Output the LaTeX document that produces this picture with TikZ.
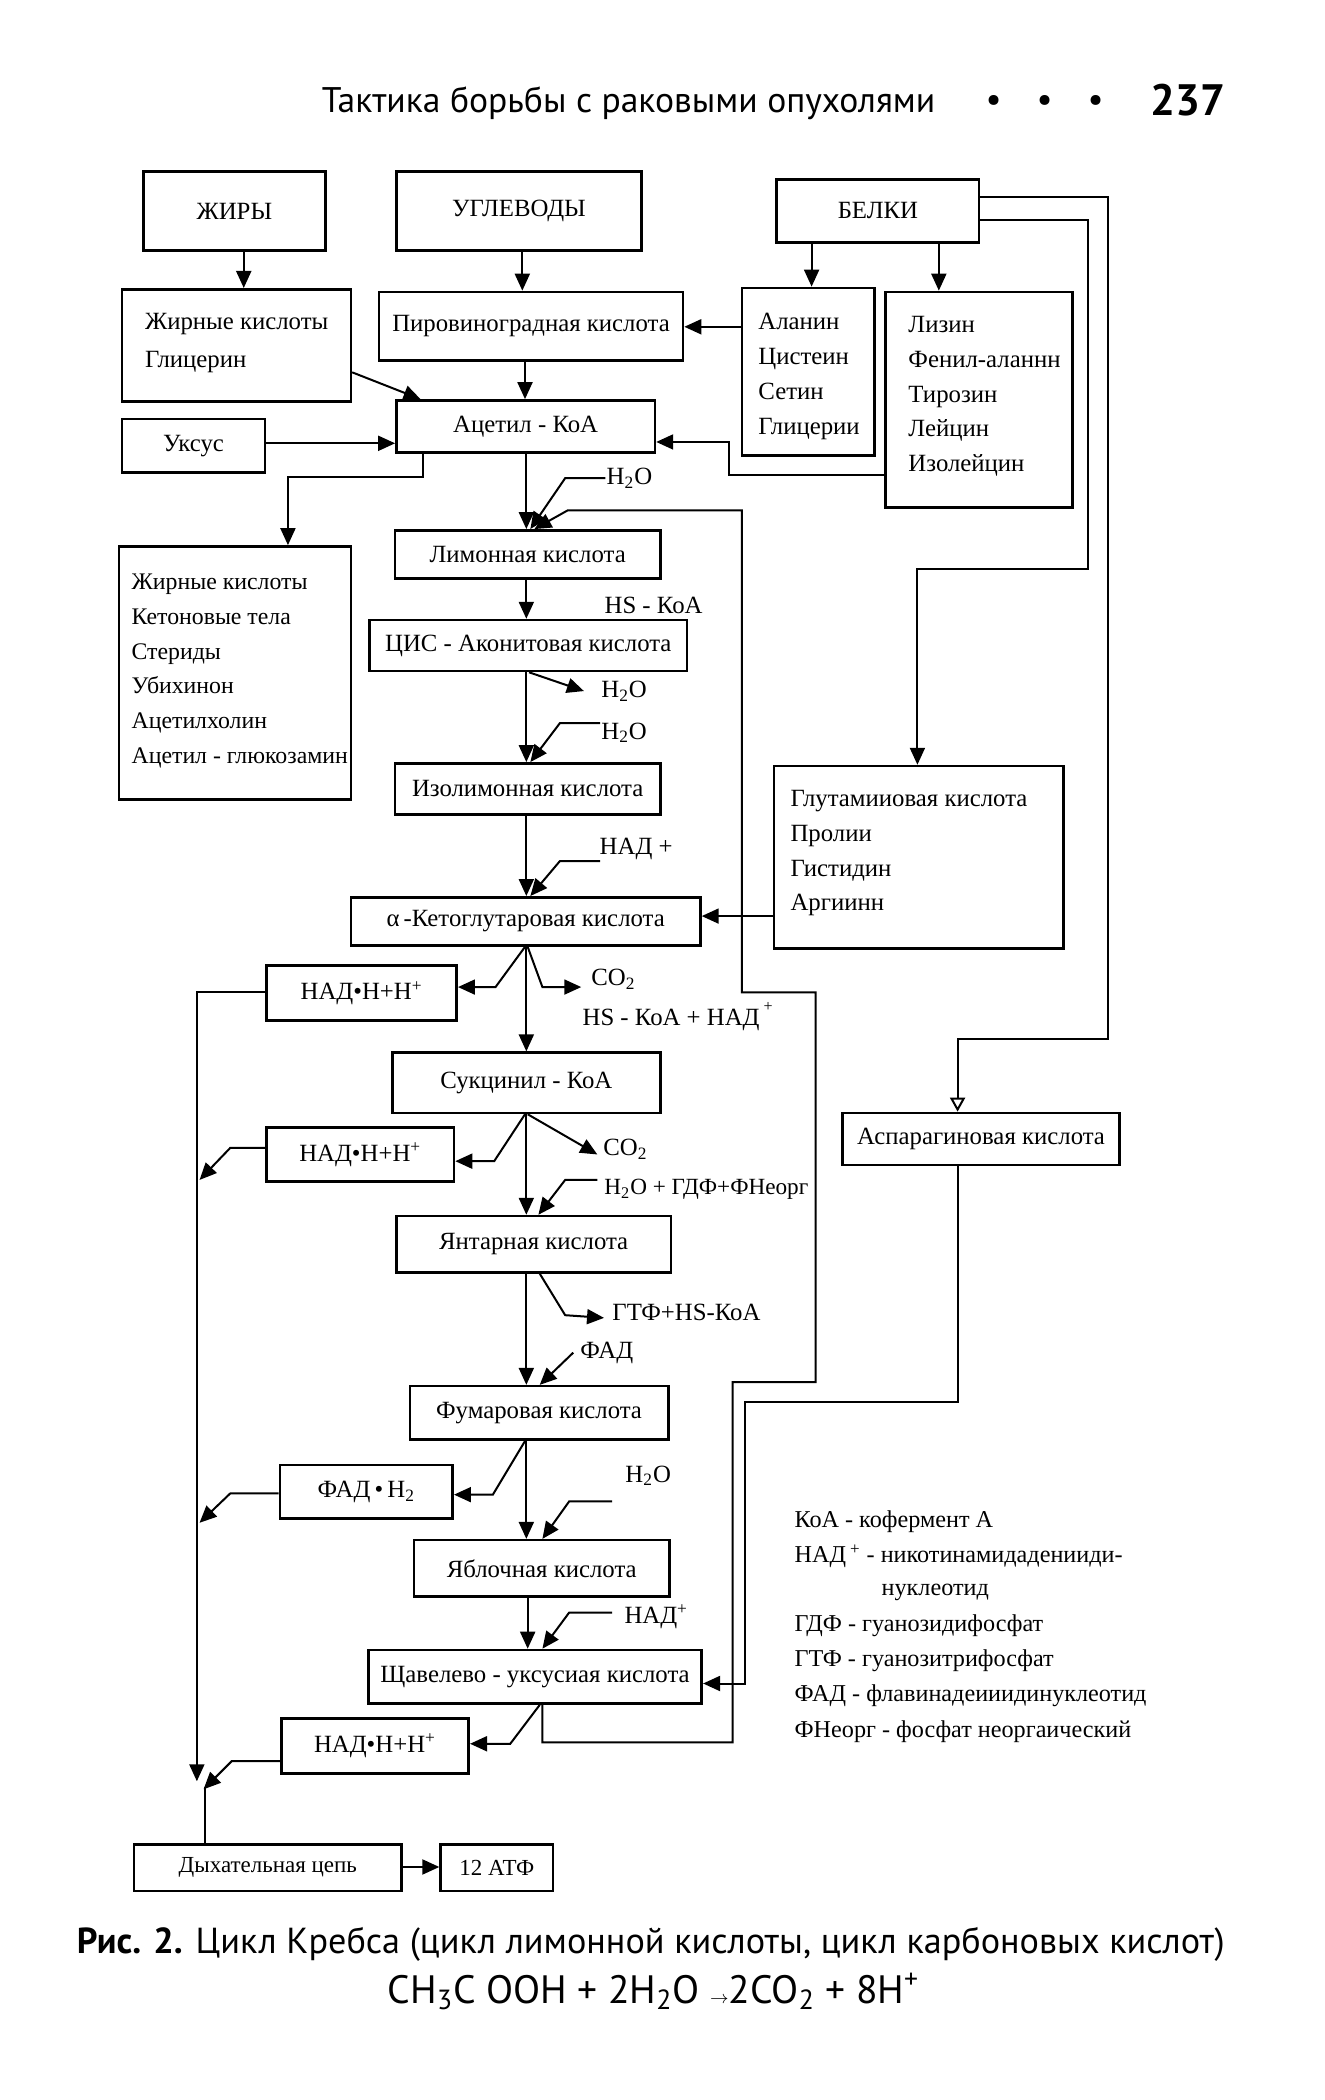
\documentclass[tikz,border=0pt]{standalone}
\usepackage{fontspec}
\setmainfont{Liberation Serif}
\newfontfamily\hdrfont{PT Sans}
\usetikzlibrary{arrows.meta}
\begin{document}
\begin{tikzpicture}[x=0.67pt,y=-0.67pt,
  bx/.style={draw,line width=1.3pt,inner sep=0pt,font=\fontsize{12.4}{15}\selectfont},
  sz/.style 2 args={minimum width=#1*0.67pt,minimum height=#2*0.67pt},
  bxs/.style={bx,font=\fontsize{11.5}{14}\selectfont},
  ln/.style={line width=1pt},
  arr/.style={ln,-{Triangle[length=8.5pt,width=7.5pt]}},
  oarr/.style={ln,-{Triangle[open,length=7pt,width=7.5pt]}},
  lab/.style={inner sep=0pt,font=\fontsize{12.4}{15}\selectfont},
  lgd/.style={inner sep=0pt,font=\fontsize{12.1}{15}\selectfont},
  lst/.style={inner sep=0pt,align=left,font=\fontsize{12.4}{17.4}\selectfont},
  hdr/.style={inner sep=0pt,font=\hdrfont\fontsize{17.8}{20}\selectfont},
]
\useasboundingbox (0,0) rectangle (989,1568);

% ---------- header ----------
\node[hdr,anchor=west] (hdr) at (240,77) {Тактика борьбы с раковыми опухолями};
\node[hdr] (dot1) at (742,77) {•};
\node[hdr] (dot2) at (780,77) {•};
\node[hdr] (dot3) at (818,77) {•};
\node[hdr,font=\hdrfont\bfseries\fontsize{22}{24}\selectfont] (page) at (887,75) {237};

% ---------- boxes ----------
\node[bx,sz={136}{59}] (zhiry) at (175,157.5) {ЖИРЫ};
\node[bx,sz={183}{59}] (uglev) at (387.5,157.5) {УГЛЕВОДЫ};
\node[bx,sz={151}{47}] (belki) at (655.5,157.5) {БЕЛКИ};

\node[bx,sz={171}{84}] (zhk1) at (176.5,258) {};
\node[lst,font=\fontsize{12.4}{18.8}\selectfont,anchor=west] (zhk1t) at (108,256) {Жирные кислоты\\Глицерин};
\node[bx,sz={227}{51}] (piruv) at (396.5,243.5) {Пировиноградная кислота};
\node[bx,sz={99}{125}] (alanin) at (603.5,277.5) {};
\node[lst,anchor=west] (alanint) at (566,281) {Аланин\\Цистеин\\Сетин\\Глицерии};
\node[bx,sz={140}{161}] (lizin) at (731,298.5) {};
\node[lst,anchor=west] (lizint) at (678,296) {Лизин\\Фенил-аланнн\\Тирозин\\Лейцин\\Изолейцин};

\node[bx,sz={193}{39}] (acetyl) at (392.5,318.5) {Ацетил - КоА};
\node[bx,sz={107}{40}] (uksus) at (144.5,333) {Уксус};

\node[bx,sz={173}{189}] (zhk2) at (175.5,502.5) {};
\node[lst,font=\fontsize{11.9}{17.4}\selectfont,anchor=west] (zhk2t) at (98,501) {Жирные кислоты\\Кетоновые тела\\Стериды\\Убихинон\\Ацетилхолин\\Ацетил - глюкозамин};

\node[bx,sz={198}{36}] (limon) at (394,414) {Лимонная кислота};
\node[bx,sz={237}{38}] (cis) at (394.5,482) {ЦИС - Аконитовая кислота};
\node[bx,sz={198}{38}] (izolim) at (394,589) {Изолимонная кислота};
\node[bx,sz={216}{136}] (glut) at (686,640) {};
\node[lst,anchor=west] (glutt) at (590,637) {Глутамииовая кислота\\Пролии\\Гистидин\\Аргиинн};
\node[bx,sz={261}{36}] (aketo) at (392.5,688) {α\,-Кетоглутаровая кислота};
\node[bx,sz={142}{41}] (nadh1) at (270,741.5) {НАД•Н+Н\textsuperscript{+}};
\node[bx,sz={200}{45}] (sukc) at (393,808.5) {Сукцинил - КоА};
\node[bx,sz={140}{40}] (nadh2) at (269,862) {НАД•Н+Н\textsuperscript{+}};
\node[bx,sz={207}{39}] (aspar) at (732.5,850.5) {Аспарагиновая кислота};
\node[bx,sz={205}{42}] (yantar) at (398.5,929) {Янтарная кислота};
\node[bx,sz={193}{40}] (fumar) at (402.5,1055) {Фумаровая кислота};
\node[bx,sz={129}{40}] (fadh) at (273.5,1114) {ФАД\,•\,Н\textsubscript{2}};
\node[bx,sz={191}{42}] (yabl) at (404.5,1171) {Яблочная кислота};
\node[bx,sz={249}{40}] (shchav) at (399.5,1252) {Щавелево - уксусиая кислота};
\node[bx,sz={140}{41}] (nadh3) at (280,1303.5) {НАД•Н+Н\textsuperscript{+}};
\node[bxs,sz={200}{35}] (dykh) at (200,1394.5) {Дыхательная цепь};
\node[bxs,sz={84}{35}] (atf) at (371,1394.5) {12 АТФ};

% ---------- side labels ----------
\node[lab] (h2oA) at (470,357) {H\textsubscript{2}O};
\node[lab] (hskoa) at (488,452) {HS - КоА};
\node[lab] (h2oB) at (466,516) {H\textsubscript{2}O};
\node[lab] (h2oC) at (466,547) {H\textsubscript{2}O};
\node[lab] (nadA) at (475,634) {НАД +};
\node[lab] (co2A) at (458,731) {CO\textsubscript{2}};
\node[lab] (hsnad) at (506,759) {HS - КоА + НАД\,\raisebox{0.55em}{\footnotesize +}};
\node[lab] (co2B) at (467,858) {CO\textsubscript{2}};
\node[lab,font=\fontsize{11.6}{15}\selectfont,anchor=west] (h2ogdf) at (451,888) {H\textsubscript{2}O + ГДФ+ФНеорг};
\node[lab,anchor=west] (gtf) at (457,980) {ГТФ+HS-КоА};
\node[lab,anchor=west] (fadA) at (433,1010) {ФАД};
\node[lab] (h2oD) at (484,1102) {H\textsubscript{2}O};
\node[lab] (nadB) at (490,1207) {НАД\textsuperscript{+}};

% ---------- legend ----------
\node[lgd,anchor=west] (lg1) at (593,1136) {КоА - кофермент А};
\node[lgd,anchor=west] (lg2) at (593,1162) {НАД\,\textsuperscript{+} - никотинамидаденииди-};
\node[lgd,anchor=west] (lg3) at (658,1189) {нуклеотид};
\node[lgd,anchor=west] (lg4) at (593,1214) {ГДФ - гуанозидифосфат};
\node[lgd,anchor=west] (lg5) at (593,1240) {ГТФ - гуанозитрифосфат};
\node[lgd,anchor=west] (lg6) at (593,1266) {ФАД - флавинадеииидинуклеотид};
\node[lgd,anchor=west] (lg7) at (593,1293) {ФНеорг - фосфат неоргаический};

% ---------- caption ----------
\node[hdr,font=\hdrfont\fontsize{18.1}{21}\selectfont] (cap1) at (486,1452) {\textbf{Рис. 2.} Цикл Кребса (цикл лимонной кислоты, цикл карбоновых кислот)};
\node[hdr,font=\hdrfont\fontsize{19.8}{22}\selectfont] (cap2) at (488,1487) {CH\textsubscript{3}C OOH + 2H\textsubscript{2}O {\small$\rightarrow$}2CO\textsubscript{2} + 8H\textsuperscript{+}};

% ---------- free ends ----------
\coordinate (inA) at (452,357);
\coordinate (inC) at (448,540);
\coordinate (inNad) at (448,643);
\coordinate (inGdf) at (446,881);
\coordinate (inFad) at (428,1010);
\coordinate (inH2o) at (457,1121);
\coordinate (inNad2) at (457,1204);
\coordinate (outH2o) at (436,516);
\coordinate (outCo2a) at (434,737);
\coordinate (outCo2b) at (446,862);
\coordinate (outGtf) at (451,984);
\coordinate (J) at (147,1330);
\coordinate (J2) at (149,881);
\coordinate (J3) at (149,1137);
\coordinate (J4) at (152,1336);

% ---------- top connectors ----------
\draw[arr] (zhiry.south -| 182,0) -- (zhk1.north -| 182,0);
\draw[arr] (uglev.south -| 390,0) -- (piruv.north -| 390,0);
\draw[arr] (belki.south -| 606,0) -- (alanin.north -| 606,0);
\draw[arr] (belki.south -| 701,0) -- (lizin.north -| 701,0);
\draw[arr] (alanin.west |- 0,244) -- (piruv.east |- 0,244);
\draw[arr] (piruv.south -| 392,0) -- (acetyl.north -| 392,0);
\draw[arr] (zhk1.east |- 0,278) -- (acetyl.north -| 314,0);
\draw[arr] (uksus.east |- 0,331) -- (acetyl.west |- 0,331);
\draw[arr] (lizin.west |- 0,355) -| (544,330) -- (acetyl.east |- 0,330);
\draw[arr] (acetyl.south -| 316,0) |- (215,356) -- (zhk2.north -| 215,0);
\draw[oarr] (belki.east |- 0,147) -| (827,776) -| (aspar.north -| 715,0);
\draw[arr] (belki.east |- 0,164) -| (812,425) -| (glut.north -| 685,0);

% ---------- main chain ----------
\draw[arr] (acetyl.south -| 393,0) -- (limon.north -| 393,0);
\draw[arr] (inA) -- (422,357) -- (limon.north -| 396,0);
\draw[arr] (shchav.south -| 405,0) |- (547,1301) |- (609,1032) |- (554,741) |- (424,381) -- (limon.north -| 399,0);
\draw[arr] (limon.south -| 393,0) -- (cis.north -| 393,0);
\draw[arr] (cis.south -| 393,0) -- (izolim.north -| 393,0);
\draw[arr] (cis.south -| 395,0) -- (outH2o);
\draw[arr] (inC) -- (418,540) -- (izolim.north -| 396,0);
\draw[arr] (izolim.south -| 393,0) -- (aketo.north -| 393,0);
\draw[arr] (inNad) -- (418,643) -- (aketo.north -| 396,0);
\draw[arr] (glut.west |- 0,684) -- (aketo.east |- 0,684);
\draw[arr] (aketo.south -| 393,0) -- (sukc.north -| 393,0);
\draw[arr] (aketo.south -| 392,0) -- (370,737) -- (nadh1.east |- 0,737);
\draw[arr] (aketo.south -| 394,0) -- (405,737) -- (outCo2a);
\draw[arr] (sukc.south -| 393,0) -- (yantar.north -| 393,0);
\draw[arr] (sukc.south -| 392,0) -- (369,867) -- (nadh2.east |- 0,867);
\draw[arr] (sukc.south -| 394,0) -- (outCo2b);
\draw[arr] (inGdf) -- (422,881) -- (yantar.north -| 402,0);
\draw[arr] (yantar.south -| 393,0) -- (fumar.north -| 393,0);
\draw[arr] (yantar.south -| 403,0) -- (422,982) -- (outGtf);
\draw[arr] (inFad) -- (fumar.north -| 403,0);
\draw[arr] (fumar.south -| 393,0) -- (yabl.north -| 393,0);
\draw[arr] (fumar.south -| 392,0) -- (368,1116) -- (fadh.east |- 0,1116);
\draw[arr] (inH2o) -- (425,1121) -- (yabl.north -| 405,0);
\draw[arr] (yabl.south -| 394,0) -- (shchav.north -| 394,0);
\draw[arr] (inNad2) -- (425,1204) -- (shchav.north -| 405,0);
\draw[arr] (shchav.south -| 403,0) -- (381,1302) -- (nadh3.east |- 0,1302);
\draw[arr] (aspar.south -| 715,0) |- (556,1047) |- (shchav.east |- 0,1257);

% ---------- collector to respiratory chain ----------
\draw[arr] (nadh1.west |- 0,741) -| (J);
\draw[arr] (nadh2.west |- 0,857) -- (172,857) -- (J2);
\draw[arr] (fadh.west |- 0,1115) -- (172,1115) -- (J3);
\draw[arr] (nadh3.west |- 0,1315) -- (173,1315) -- (J4);
\draw[ln] (dykh.north -| 153,0) -- (153,1334);
\draw[arr] (dykh.east |- 0,1394) -- (atf.west |- 0,1394);
\end{tikzpicture}
\end{document}
